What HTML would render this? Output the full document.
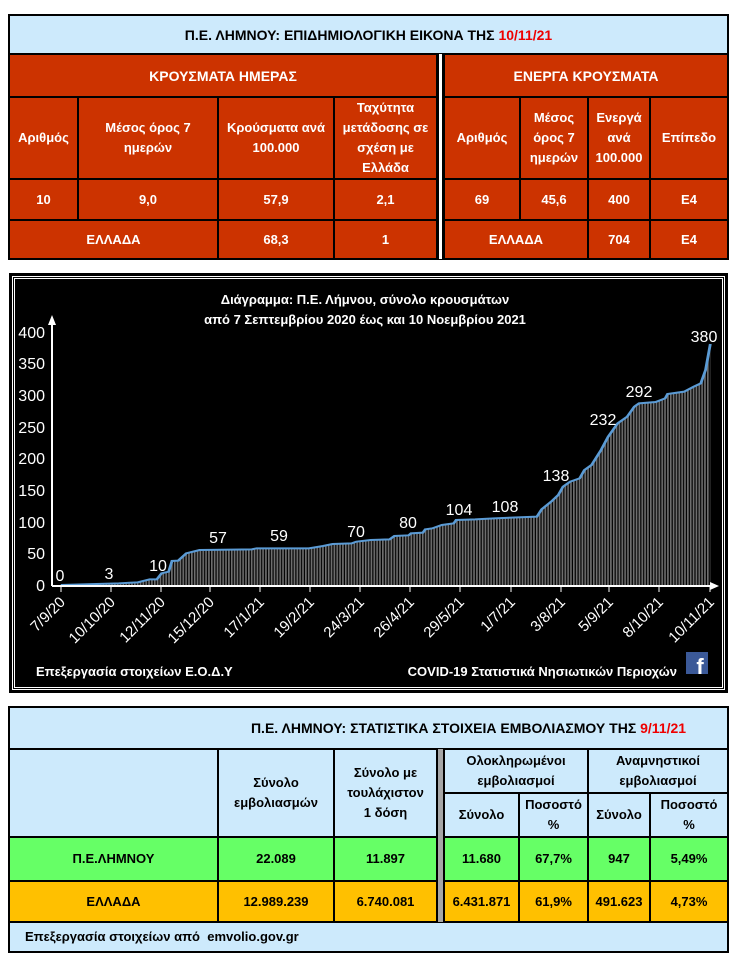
<!DOCTYPE html>
<html><head><meta charset="utf-8"><style>
body{margin:0;width:745px;height:962px;background:#fff;position:relative;overflow:hidden;font-family:"Liberation Sans","DejaVu Sans",sans-serif;font-weight:bold;font-size:13px}
.c{position:absolute;display:flex;align-items:center;justify-content:center;text-align:center;box-sizing:border-box;line-height:20px}
.r{background:#cc3300;color:#fff;border:1px solid #000}
.b{background:#cdeafc;color:#000;border:1px solid #000}
.g{background:#66ff66;color:#000;border:1px solid #000}
.o{background:#ffc000;color:#000;border:1px solid #000}
svg text{font-weight:normal}
</style></head><body>
<div style="position:absolute;left:8px;top:14px;width:721px;height:246px;border:2px solid #000;box-sizing:border-box;background:#000"></div>
<div class="c b" style="left:9px;top:15px;width:719px;height:39px;font-size:14px">Π.Ε. ΛΗΜΝΟΥ: ΕΠΙΔΗΜΙΟΛΟΓΙΚΗ ΕΙΚΟΝΑ ΤΗΣ&nbsp;<span style="color:#e00">10/11/21</span></div>
<div class="c r" style="left:9px;top:54px;width:428px;height:43px;font-size:14px">ΚΡΟΥΣΜΑΤΑ ΗΜΕΡΑΣ</div>
<div class="c r" style="left:444px;top:54px;width:284px;height:43px;font-size:14px">ΕΝΕΡΓΑ ΚΡΟΥΣΜΑΤΑ</div>
<div style="position:absolute;left:437px;top:54px;width:7px;height:205px;background:#fff;border-left:2px solid #000;border-right:2px solid #000;box-sizing:border-box"></div>
<div class="c r" style="left:9px;top:97px;width:69px;height:82px">Αριθμός</div>
<div class="c r" style="left:78px;top:97px;width:140px;height:82px">Μέσος όρος 7<br>ημερών</div>
<div class="c r" style="left:218px;top:97px;width:116px;height:82px">Κρούσματα ανά<br>100.000</div>
<div class="c r" style="left:334px;top:97px;width:103px;height:82px">Ταχύτητα<br>μετάδοσης σε<br>σχέση με<br>Ελλάδα</div>
<div class="c r" style="left:444px;top:97px;width:76px;height:82px">Αριθμός</div>
<div class="c r" style="left:520px;top:97px;width:68px;height:82px">Μέσος<br>όρος 7<br>ημερών</div>
<div class="c r" style="left:588px;top:97px;width:62px;height:82px">Ενεργά<br>ανά<br>100.000</div>
<div class="c r" style="left:650px;top:97px;width:78px;height:82px">Επίπεδο</div>
<div class="c r" style="left:9px;top:179px;width:69px;height:41px">10</div>
<div class="c r" style="left:78px;top:179px;width:140px;height:41px">9,0</div>
<div class="c r" style="left:218px;top:179px;width:116px;height:41px">57,9</div>
<div class="c r" style="left:334px;top:179px;width:103px;height:41px">2,1</div>
<div class="c r" style="left:444px;top:179px;width:76px;height:41px">69</div>
<div class="c r" style="left:520px;top:179px;width:68px;height:41px">45,6</div>
<div class="c r" style="left:588px;top:179px;width:62px;height:41px">400</div>
<div class="c r" style="left:650px;top:179px;width:78px;height:41px">Ε4</div>
<div class="c r" style="left:9px;top:220px;width:209px;height:39px">ΕΛΛΑΔΑ</div>
<div class="c r" style="left:218px;top:220px;width:116px;height:39px">68,3</div>
<div class="c r" style="left:334px;top:220px;width:103px;height:39px">1</div>
<div class="c r" style="left:444px;top:220px;width:144px;height:39px">ΕΛΛΑΔΑ</div>
<div class="c r" style="left:588px;top:220px;width:62px;height:39px">704</div>
<div class="c r" style="left:650px;top:220px;width:78px;height:39px">Ε4</div>

<svg style="position:absolute;left:0;top:270px" width="745" height="430">
<defs><pattern id="p" width="6" height="10" patternUnits="userSpaceOnUse"><rect x="0" y="0" width="3.5" height="10" fill="#6e6e6e"/></pattern></defs>
<rect x="9" y="3" width="719" height="420" fill="#000"/>
<rect x="12.5" y="6.5" width="712" height="413" fill="none" stroke="#fff" stroke-width="1"/>
<rect x="14.5" y="8.5" width="708" height="409" fill="none" stroke="#fff" stroke-width="1"/>
<svg x="0" y="0" width="745" height="430" viewBox="0 0 1568 1290" preserveAspectRatio="none">
<path d="M128,945 L250,940 290,937 315,928 330,928 340,910 355,905 362,873 375,872 392,850 420,840 530,838 540,835 650,835 680,828 700,822 740,820 750,815 780,810 820,808 830,798 860,796 865,790 890,788 895,778 910,775 930,765 955,760 960,750 1000,748 1040,745 1130,740 1140,718 1160,695 1175,675 1185,650 1200,635 1220,625 1230,600 1245,585 1265,540 1280,500 1300,460 1320,440 1335,410 1345,400 1380,396 1400,385 1405,372 1440,365 1460,350 1475,340 1485,300 1495,222 L1495,945 Z" fill="url(#p)"/>
<path d="M128,945 L250,940 290,937 315,928 330,928 340,910 355,905 362,873 375,872 392,850 420,840 530,838 540,835 650,835 680,828 700,822 740,820 750,815 780,810 820,808 830,798 860,796 865,790 890,788 895,778 910,775 930,765 955,760 960,750 1000,748 1040,745 1130,740 1140,718 1160,695 1175,675 1185,650 1200,635 1220,625 1230,600 1245,585 1265,540 1280,500 1300,460 1320,440 1335,410 1345,400 1380,396 1400,385 1405,372 1440,365 1460,350 1475,340 1485,300 1495,222" fill="none" stroke="#5b9bd5" stroke-width="6"/>
</svg>
<g stroke="#fff" stroke-width="2">
<line x1="52" y1="316" x2="52" y2="51"/>
<line x1="52" y1="316" x2="712" y2="316"/>
</g>
<polygon points="52,45 48,55 56,55" fill="#fff"/>
<polygon points="719,316 710,312 710,320" fill="#fff"/>
<g stroke="#fff" stroke-width="1">
<line x1="61" y1="316" x2="61" y2="322"/><line x1="111" y1="316" x2="111" y2="322"/><line x1="161" y1="316" x2="161" y2="322"/><line x1="210" y1="316" x2="210" y2="322"/><line x1="260" y1="316" x2="260" y2="322"/><line x1="310" y1="316" x2="310" y2="322"/><line x1="360" y1="316" x2="360" y2="322"/><line x1="410" y1="316" x2="410" y2="322"/><line x1="460" y1="316" x2="460" y2="322"/><line x1="511" y1="316" x2="511" y2="322"/><line x1="561" y1="316" x2="561" y2="322"/><line x1="609" y1="316" x2="609" y2="322"/><line x1="659" y1="316" x2="659" y2="322"/><line x1="710" y1="316" x2="710" y2="322"/>
</g>
<g fill="#fff" font-family="Liberation Sans,sans-serif" font-size="16" text-anchor="end">
<text x="45" y="68">400</text><text x="45" y="99">350</text><text x="45" y="131">300</text><text x="45" y="163">250</text><text x="45" y="194">200</text><text x="45" y="226">150</text><text x="45" y="258">100</text><text x="45" y="289">50</text><text x="45" y="321">0</text>
</g>
<g fill="#fff" font-family="Liberation Sans,sans-serif" font-size="16" text-anchor="middle">
<text x="60" y="311">0</text><text x="109" y="309">3</text><text x="158" y="301">10</text><text x="218" y="273">57</text><text x="279" y="271">59</text><text x="356" y="267">70</text><text x="408" y="258">80</text><text x="459" y="245">104</text><text x="505" y="242">108</text><text x="556" y="211">138</text><text x="603" y="155">232</text><text x="639" y="127">292</text><text x="704" y="72">380</text>
</g>
<g fill="#fff" font-family="Liberation Sans,sans-serif" font-size="15" text-anchor="end">
<text transform="translate(66,333) rotate(-45)">7/9/20</text>
<text transform="translate(116,333) rotate(-45)">10/10/20</text>
<text transform="translate(166,333) rotate(-45)">12/11/20</text>
<text transform="translate(215,333) rotate(-45)">15/12/20</text>
<text transform="translate(265,333) rotate(-45)">17/1/21</text>
<text transform="translate(315,333) rotate(-45)">19/2/21</text>
<text transform="translate(365,333) rotate(-45)">24/3/21</text>
<text transform="translate(415,333) rotate(-45)">26/4/21</text>
<text transform="translate(465,333) rotate(-45)">29/5/21</text>
<text transform="translate(516,333) rotate(-45)">1/7/21</text>
<text transform="translate(566,333) rotate(-45)">3/8/21</text>
<text transform="translate(614,333) rotate(-45)">5/9/21</text>
<text transform="translate(664,333) rotate(-45)">8/10/21</text>
<text transform="translate(715,333) rotate(-45)">10/11/21</text>
</g>
<g fill="#fff" font-family="Liberation Sans,sans-serif" font-size="13" style="font-weight:bold">
<text x="365" y="34" text-anchor="middle" style="font-weight:bold">Διάγραμμα:  Π.Ε. Λήμνου, σύνολο κρουσμάτων</text>
<text x="365" y="54" text-anchor="middle" style="font-weight:bold">από 7 Σεπτεμβρίου 2020 έως και 10 Νοεμβρίου 2021</text>
<text x="36" y="406" style="font-weight:bold">Επεξεργασία στοιχείων Ε.Ο.Δ.Υ</text>
<text x="677" y="406" text-anchor="end" style="font-weight:bold">COVID-19 Στατιστικά Νησιωτικών Περιοχών</text>
</g>
<rect x="686" y="382" width="22" height="22" fill="#3b5998"/>
<text x="700" y="404" fill="#fff" font-family="Liberation Sans,sans-serif" font-size="22" style="font-weight:bold" text-anchor="middle">f</text>
</svg>

<div style="position:absolute;left:8px;top:706px;width:721px;height:247px;background:#000"></div>
<div class="c b" style="left:9px;top:707px;width:719px;height:42px;font-size:14px;padding-left:200px">Π.Ε. ΛΗΜΝΟΥ: ΣΤΑΤΙΣΤΙΚΑ ΣΤΟΙΧΕΙΑ ΕΜΒΟΛΙΑΣΜΟΥ ΤΗΣ&nbsp;<span style="color:#e00">9/11/21</span></div>
<div class="c b" style="left:9px;top:749px;width:209px;height:88px"></div>
<div class="c b" style="left:218px;top:749px;width:116px;height:88px">Σύνολο<br>εμβολιασμών</div>
<div class="c b" style="left:334px;top:749px;width:103px;height:88px">Σύνολο με<br>τουλάχιστον<br>1 δόση</div>
<div style="position:absolute;left:437px;top:749px;width:7px;height:173px;background:#a6a6a6;border-left:1px solid #000;border-right:1px solid #000;box-sizing:border-box"></div>
<div class="c b" style="left:444px;top:749px;width:144px;height:44px">Ολοκληρωμένοι<br>εμβολιασμοί</div>
<div class="c b" style="left:588px;top:749px;width:140px;height:44px">Αναμνηστικοί<br>εμβολιασμοί</div>
<div class="c b" style="left:444px;top:793px;width:75px;height:44px">Σύνολο</div>
<div class="c b" style="left:519px;top:793px;width:69px;height:44px">Ποσοστό<br>%</div>
<div class="c b" style="left:588px;top:793px;width:62px;height:44px">Σύνολο</div>
<div class="c b" style="left:650px;top:793px;width:78px;height:44px">Ποσοστό<br>%</div>
<div class="c g" style="left:9px;top:837px;width:209px;height:44px">Π.Ε.ΛΗΜΝΟΥ</div>
<div class="c g" style="left:218px;top:837px;width:116px;height:44px">22.089</div>
<div class="c g" style="left:334px;top:837px;width:103px;height:44px">11.897</div>
<div class="c g" style="left:444px;top:837px;width:75px;height:44px">11.680</div>
<div class="c g" style="left:519px;top:837px;width:69px;height:44px">67,7%</div>
<div class="c g" style="left:588px;top:837px;width:62px;height:44px">947</div>
<div class="c g" style="left:650px;top:837px;width:78px;height:44px">5,49%</div>
<div class="c o" style="left:9px;top:881px;width:209px;height:41px">ΕΛΛΑΔΑ</div>
<div class="c o" style="left:218px;top:881px;width:116px;height:41px">12.989.239</div>
<div class="c o" style="left:334px;top:881px;width:103px;height:41px">6.740.081</div>
<div class="c o" style="left:444px;top:881px;width:75px;height:41px">6.431.871</div>
<div class="c o" style="left:519px;top:881px;width:69px;height:41px">61,9%</div>
<div class="c o" style="left:588px;top:881px;width:62px;height:41px">491.623</div>
<div class="c o" style="left:650px;top:881px;width:78px;height:41px">4,73%</div>
<div class="c b" style="left:9px;top:922px;width:719px;height:30px;justify-content:flex-start;padding-left:15px">Επεξεργασία στοιχείων από&nbsp; emvolio.gov.gr</div>
</body></html>
